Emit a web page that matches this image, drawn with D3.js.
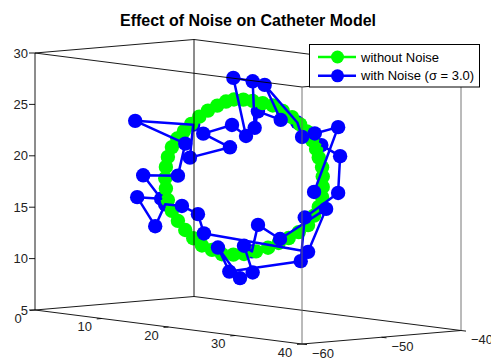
<!DOCTYPE html>
<html>
<head>
<meta charset="utf-8">
<script src="https://cdn.jsdelivr.net/npm/d3@7"></script>
<style>
  body { margin: 0; background: #fff; }
  svg { display: block; }
  text { font-family: "Liberation Sans", Arial, Helvetica, sans-serif; }
</style>
</head>
<body>
<svg id="chart" width="491" height="358"></svg>
<script>
// ---- data ----
const titleText = "Effect of Noise on Catheter Model";
const seriesNames = ["without Noise", "with Noise (\u03c3 = 3.0)"];

const xTicks = [0, 10, 20, 30, 40];
const yTicks = [-60, -50, -40];
const zTicks = [5, 10, 15, 20, 25, 30];

// catheter ring, no noise
const greenX = [31.2, 31.2, 31.1, 30.6, 30.2, 29.6, 28.8, 27.8, 26.6, 25.2, 23.7, 22.2, 20.7, 19.3, 17.9, 16.7,
                15.4, 14.0, 12.7, 11.5, 10.4, 9.4, 8.6, 8.0, 7.7, 7.6, 7.7, 8.0, 8.6, 9.5, 10.6, 11.8,
                13.1, 14.6, 16.1, 17.8, 19.4, 21.2, 23.0, 24.6, 26.1, 27.6, 29.0, 29.9, 30.6, 31.1];
const greenY = [-50, -50, -50, -50, -50, -50, -50, -50, -50, -50, -50, -50, -50, -50, -50, -50,
                -50, -50, -50, -50, -50, -50, -50, -50, -50, -50, -50, -50, -50, -50, -50, -50,
                -50, -50, -50, -50, -50, -50, -50, -50, -50, -50, -50, -50, -50, -50];
const greenZ = [18.9, 19.9, 20.8, 21.7, 22.5, 23.3, 24.1, 24.7, 25.3, 25.8, 26.2, 26.3, 26.4, 26.4, 26.3, 26.0,
                25.5, 24.9, 24.2, 23.4, 22.6, 21.8, 20.9, 19.9, 18.9, 17.8, 16.8, 15.7, 14.7, 13.8, 13.0, 12.3,
                11.7, 11.4, 11.1, 11.2, 11.4, 11.8, 12.3, 12.9, 13.5, 14.2, 15.0, 16.0, 16.9, 17.9];

// same ring with measurement noise
const blueX = [29.9, 33.5, 30.0, 28.1, 25.6, 22.5, 24.9, 19.7, 21.0, 20.7, 17.8, 19.7, 17.6, 13.3, 17.3,
               11.3, 10.0, 3.1, 10.6, 9.5, 4.3, 5.2, 3.4, 6.1, 5.8, 10.1, 12.5, 13.4, 29.0, 31.7,
               24.8, 21.5, 18.8, 19.4, 20.7, 18.8, 15.5, 17.2, 27.9, 28.5, 33.5, 33.8, 29.2];
const blueY = [-50, -50, -50, -50, -48.5, -50, -50, -48.5, -50, -50, -50, -50, -50, -50, -50,
               -50, -48.5, -50, -50, -50, -50, -48.5, -50, -50, -48.5, -50, -50, -50, -50, -50,
               -50, -50, -48.5, -50, -50, -50, -50, -50, -50, -50, -50, -50, -48.5];
const blueZ = [18.3, 24.9, 24.0, 23.5, 24.6, 28.1, 24.9, 25.2, 23.8, 28.3, 28.4, 22.9, 23.8, 22.6, 21.6,
               20.1, 23.1, 23.0, 21.4, 18.2, 17.8, 15.5, 15.6, 13.0, 15.0, 15.3, 14.7, 12.9, 12.4, 16.8,
               13.3, 14.4, 11.5, 12.2, 9.7, 9.0, 11.7, 9.5, 11.4, 15.7, 18.5, 22.1, 22.7];

// ---- projection of the 3-D axes box onto the page ----
const ox = 35, oy = 310;
const xToPx = d3.scaleLinear().domain([0, 40]).range([0, 267]);
const xToPy = d3.scaleLinear().domain([0, 40]).range([0, 34]);
const yToPx = d3.scaleLinear().domain([-60, -40]).range([0, 159]);
const yToPy = d3.scaleLinear().domain([-60, -40]).range([0, -13.5]);
const zToPy = d3.scaleLinear().domain([5, 30]).range([0, -257]);
const proj = (x, y, z) => [ox + xToPx(x) + yToPx(y), oy + xToPy(x) + yToPy(y) + zToPy(z)];

const svg = d3.select("#chart");
svg.append("rect").attr("width", 491).attr("height", 358).attr("fill", "#fff");

const GREEN = "#00ff00", BLUE = "#0000ff";
const R = 7.2;

const greenPts = greenX.map((x, i) => ({ p: proj(x, greenY[i], greenZ[i]), y: greenY[i] }));
const bluePts = blueX.map((x, i) => ({ p: proj(x, blueY[i], blueZ[i]), y: blueY[i] }));
const ringY = d3.mean(greenY);
const line = d3.line().x(d => d.p[0]).y(d => d.p[1]);

const plot = svg.append("g");

// blue markers lying behind the ring
plot.append("g").selectAll("circle").data(bluePts.filter(d => d.y > ringY)).join("circle")
  .attr("cx", d => d.p[0]).attr("cy", d => d.p[1]).attr("r", R).attr("fill", BLUE);

// ring without noise
plot.append("path").datum(greenPts).attr("d", line)
  .attr("fill", "none").attr("stroke", GREEN).attr("stroke-width", 2.5);
plot.append("g").selectAll("circle").data(greenPts).join("circle")
  .attr("cx", d => d.p[0]).attr("cy", d => d.p[1]).attr("r", R).attr("fill", GREEN);

// noisy ring
plot.append("path").datum(bluePts).attr("d", line)
  .attr("fill", "none").attr("stroke", BLUE).attr("stroke-width", 2.5).attr("stroke-linejoin", "round");
plot.append("g").selectAll("circle").data(bluePts.filter(d => d.y <= ringY)).join("circle")
  .attr("cx", d => d.p[0]).attr("cy", d => d.p[1]).attr("r", R).attr("fill", BLUE);

// ---- axes box ----
const [x0, x1] = xToPx.domain(), [y0, y1] = yToPx.domain(), [z0, z1] = zToPy.domain();
const edges = [
  [[x0, y0, z0], [x1, y0, z0], "#000"], [[x0, y0, z0], [x0, y1, z0], "#000"],
  [[x0, y1, z0], [x1, y1, z0], "#000"], [[x1, y0, z0], [x1, y1, z0], "#000"],
  [[x0, y0, z1], [x1, y0, z1], "#000"], [[x0, y0, z1], [x0, y1, z1], "#000"],
  [[x0, y1, z1], [x1, y1, z1], "#000"], [[x1, y0, z1], [x1, y1, z1], "#000"],
  [[x0, y0, z0], [x0, y0, z1], "#000"], [[x0, y1, z0], [x0, y1, z1], "#000"],
  [[x1, y0, z0], [x1, y0, z1], "#666"], [[x1, y1, z0], [x1, y1, z1], "#666"]
];
const box = svg.append("g");
edges.forEach(([a, b, c]) => {
  const pa = proj(...a), pb = proj(...b);
  box.append("line").attr("x1", pa[0]).attr("y1", pa[1]).attr("x2", pb[0]).attr("y2", pb[1])
    .attr("stroke", c).attr("stroke-width", 0.9);
});

// ticks and tick labels
const fmt = d3.format("d");
const axes = svg.append("g").attr("font-size", 13).attr("fill", "#222");
xTicks.forEach(v => {
  const p = proj(v, y0, z0);
  axes.append("line").attr("x1", p[0]).attr("y1", p[1]).attr("x2", p[0] - 5).attr("y2", p[1] + 0.4)
    .attr("stroke", "#000").attr("stroke-width", 0.9);
  axes.append("text").attr("x", p[0] - 17).attr("y", p[1] + 8).attr("dy", "0.35em")
    .attr("text-anchor", "middle").text(fmt(v));
});
yTicks.forEach(v => {
  const p = proj(x1, v, z0);
  axes.append("line").attr("x1", p[0]).attr("y1", p[1]).attr("x2", p[0] + 5).attr("y2", p[1] + 0.6)
    .attr("stroke", "#000").attr("stroke-width", 0.9);
  axes.append("text").attr("x", p[0] + 21).attr("y", p[1] + 9).attr("dy", "0.35em")
    .attr("text-anchor", "middle").text(fmt(v));
});
zTicks.forEach(v => {
  const p = proj(x0, y0, v);
  axes.append("line").attr("x1", p[0]).attr("y1", p[1]).attr("x2", p[0] - 6).attr("y2", p[1])
    .attr("stroke", "#000").attr("stroke-width", 0.9);
  axes.append("text").attr("x", p[0] - 7).attr("y", p[1]).attr("dy", "0.35em")
    .attr("text-anchor", "end").text(fmt(v));
});

// title
svg.append("text").attr("x", 248).attr("y", 26).attr("text-anchor", "middle")
  .attr("font-size", 16).attr("font-weight", "bold").attr("fill", "#000").text(titleText);

// legend
const lg = svg.append("g").attr("transform", "translate(309.5,44.5)");
lg.append("rect").attr("width", 170).attr("height", 42.5).attr("fill", "#fff")
  .attr("stroke", "#000").attr("stroke-width", 1);
[[GREEN, seriesNames[0]], [BLUE, seriesNames[1]]].forEach(([c, name], i) => {
  const y = 12.5 + i * 18.8;
  lg.append("line").attr("x1", 8.5).attr("x2", 46.5).attr("y1", y).attr("y2", y)
    .attr("stroke", c).attr("stroke-width", 2.5);
  lg.append("circle").attr("cx", 28).attr("cy", y).attr("r", 6.5).attr("fill", c);
  lg.append("text").attr("x", 51.5).attr("y", y).attr("dy", "0.35em")
    .attr("font-size", 13).attr("fill", "#000").text(name);
});
</script>
</body>
</html>
